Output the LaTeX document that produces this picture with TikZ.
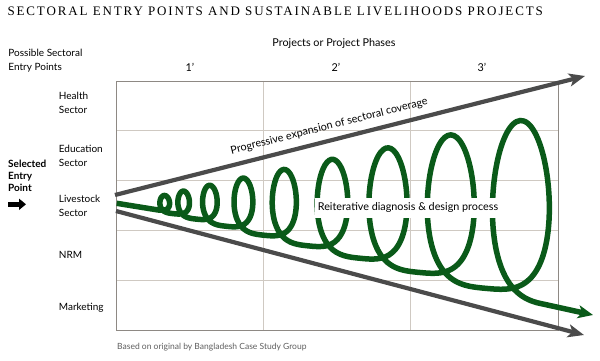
\documentclass[tikz,border=0pt]{standalone}
\usepackage{fontspec}
\setmainfont{Lato}
\newfontfamily\titlefont[LetterSpace=14.5]{Liberation Serif}
\usetikzlibrary{arrows.meta, positioning}

\begin{document}
\begin{tikzpicture}[x=1pt, y=-1pt,
    declare function={
        uu(\s)=\s+0.8*sin(360*\s)/(2*pi);
        cx(\s)=158.2+11.7*\s+3.66*\s*\s;
        hw(\s)=5.8+1.0*\s+0.3*\s*\s;
        ht(\s)=12.84+5.73*\s+1.59*\s*\s;
        by(\s)=210+2.796*\s+0.875*\s*\s;
    },
    label/.style={font=\fontsize{10}{14}\selectfont, align=left, inner sep=0pt},
    phase/.style={font=\fontsize{10.8}{12}\selectfont, inner sep=0pt, anchor=base},
    coverage/.style={draw=arrowColour, line width=4.2pt, -{Stealth[length=16pt, width=13pt, inset=4pt]}},
    process/.style={draw=loopColour, line width=5.5pt, -{Stealth[length=15pt, width=13pt, inset=4pt]}}]
    % Define colours
    \definecolor{gridColour}{HTML}{CFC9C2}
    \definecolor{frameColour}{HTML}{8E8984}
    \definecolor{arrowColour}{HTML}{4B4B4B}
    \definecolor{loopColour}{HTML}{0A5A19}
    \definecolor{noteColour}{HTML}{5E5E5E}

    % Define grid size
    \def\gridLeft{116}
    \def\gridTop{81}
    \def\cellW{147.33}
    \def\cellH{49.8}

    \useasboundingbox (0,0) rectangle (600,361);

    % Title
    \node[anchor=base west, inner sep=0pt] (title) at (7.3,16)
        {\titlefont\fontsize{13}{15}\selectfont SECTORAL ENTRY POINTS AND SUSTAINABLE LIVELIHOODS PROJECTS};

    % Draw grid
    \foreach \r in {1,...,4}
        \draw[gridColour, line width=0.9pt] (\gridLeft,\gridTop+\r*\cellH) -- (\gridLeft+3*\cellW,\gridTop+\r*\cellH);
    \foreach \c in {1,2}
        \draw[gridColour, line width=0.9pt] (\gridLeft+\c*\cellW,\gridTop) -- (\gridLeft+\c*\cellW,\gridTop+5*\cellH);
    \draw[frameColour, line width=0.9pt] (\gridLeft,\gridTop) rectangle (\gridLeft+3*\cellW,\gridTop+5*\cellH);

    % Column headings
    \node[phase] (phases) at (334,46.7) {Projects or Project Phases};
    \node[phase] (phase1) at (190,71) {1’};
    \node[phase] (phase2) at (336,71) {2’};
    \node[phase] (phase3) at (482,71) {3’};

    % Row labels
    \node[label, anchor=west] (possible) at (8.3,60.8) {Possible Sectoral\\Entry Points};
    \node[label, anchor=west] (health) at (58.7,103.3) {Health\\Sector};
    \node[label, anchor=west] (education) at (58.7,155.9) {Education\\Sector};
    \node[label, anchor=west] (livestock) at (58.7,206) {Livestock\\Sector};
    \node[label, anchor=base west] (nrm) at (58.7,258.3) {NRM};
    \node[label, anchor=base west] (marketing) at (58.7,310) {Marketing};

    % Selected entry point
    \node[label, anchor=west, font=\fontsize{10}{12}\selectfont\bfseries] (selected) at (8,175.4) {Selected\\Entry\\Point};
    \coordinate (entryTail) at (8,204.3);
    \coordinate (entryHead) at (26,204.3);
    \draw[line width=4.5pt, -{Triangle[length=7pt, width=11pt]}] (entryTail) -- (entryHead);

    % Sectoral coverage arrows
    \coordinate (upperStart) at (115,195);
    \coordinate (upperEnd) at (585,76);
    \coordinate (lowerStart) at (116,211);
    \coordinate (lowerEnd) at (584,335);
    \draw[coverage] (upperStart) -- (upperEnd)
        node[pos=0.463, sloped, above=7pt, inner sep=0pt, text=black, font=\fontsize{10.8}{12}\selectfont] (expansion) {Progressive expansion of sectoral coverage};
    \draw[coverage] (lowerStart) -- (lowerEnd);

    % Reiterative loops
    \coordinate (loopStart) at (116.7,203.3);
    \coordinate (loopEnd) at (593,315);
    \draw[process] (loopStart) -- plot[domain=0:8.94, samples=500, smooth, variable=\s]
        ({cx(uu(\s))+hw(\s)*sin(360*\s)}, {by(uu(\s))-ht(\s)*abs(sin(180*\s))^3}) -- (loopEnd);
    \node[fill=white, inner xsep=3pt, inner ysep=5pt, font=\fontsize{10.8}{12}\selectfont] (diagnosis) at (408,208)
        {Reiterative diagnosis \& design process};

    % Source note
    \node[anchor=base west, inner sep=0pt, text=noteColour, font=\fontsize{8.5}{10}\selectfont] (source) at (117,349)
        {Based on original by Bangladesh Case Study Group};
\end{tikzpicture}
\end{document}
